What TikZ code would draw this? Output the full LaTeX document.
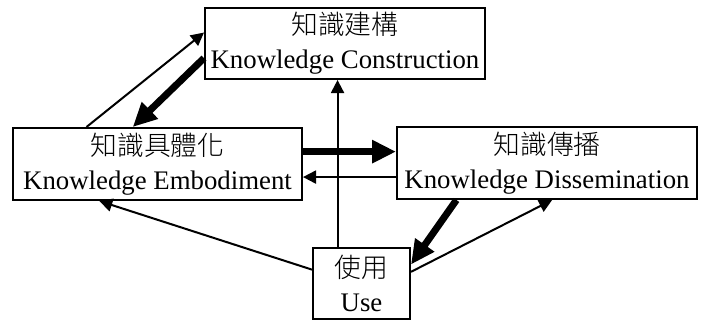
\documentclass[tikz,border=0pt]{standalone}
\usepackage{fontspec}
\setmainfont{Liberation Serif}
\newfontfamily\cjk{Noto Sans CJK TC Light}
\usetikzlibrary{arrows.meta,calc}
\begin{document}
\begin{tikzpicture}[x=0.5pt,y=-0.5pt,
  box/.style={draw, line width=1pt, inner sep=0pt, align=center,
    font=\fontsize{13.4pt}{17pt}\selectfont},
  thinarrow/.style={line width=1pt, -{Triangle[length=6.5pt,width=6.5pt]}},
  bigarrow/.style={line width=3.5pt, -{Triangle[length=12pt,width=11pt]}}]
\useasboundingbox (0,0) rectangle (703,322);

% boxes
\node[box, minimum width=140pt, minimum height=35.5pt] (kc) at (345,43.5)
  {{\cjk 知識建構}\\Knowledge Construction};
\node[box, minimum width=144.5pt, minimum height=36pt] (emb) at (157.5,164)
  {{\cjk 知識具體化}\\Knowledge Embodiment};
\node[box, minimum width=150pt, minimum height=36pt] (dis) at (547,163)
  {{\cjk 知識傳播}\\Knowledge Dissemination};
\node[box, minimum width=48.5pt, minimum height=35.5pt] (use) at (361.5,283.5)
  {{\cjk 使用}\\Use};

% attachment points on the box borders
\coordinate (a1s) at ($(emb.north west)!0.256!(emb.north east)$);
\coordinate (a1e) at ($(kc.north west)!0.35!(kc.south west)$);
\coordinate (a2s) at ($(kc.north west)!0.70!(kc.south west)$);
\coordinate (a2e) at ($(emb.north west)!0.415!(emb.north east)$);
\coordinate (h1) at ($(emb.north east)!0.333!(emb.south east)$);
\coordinate (h2) at ($(dis.north west)!0.69!(dis.south west)$);
\coordinate (v) at ($(use.north west)!0.258!(use.north east)$);
\coordinate (u1) at ($(use.north west)!0.31!(use.south west)$);
\coordinate (e1) at ($(emb.south west)!0.30!(emb.south east)$);
\coordinate (d1) at ($(dis.south west)!0.20!(dis.south east)$);
\coordinate (u2) at ($(use.north east)!0.24!(use.south east)$);
\coordinate (u3) at ($(use.north east)!0.34!(use.south east)$);
\coordinate (d2) at ($(dis.south west)!0.517!(dis.south east)$);

% connectors
\draw[thinarrow] (a1s) -- (a1e);
\draw[bigarrow] (a2s) -- (a2e);
\draw[bigarrow] (h1) -- (h1 -| dis.west);
\draw[thinarrow] (h2) -- (h2 -| emb.east);
\draw[thinarrow] (v) -- (v |- kc.south);
\draw[thinarrow] (u1) -- (e1);
\draw[bigarrow] (d1) -- (u2);
\draw[thinarrow] (u3) -- (d2);
\end{tikzpicture}
\end{document}
